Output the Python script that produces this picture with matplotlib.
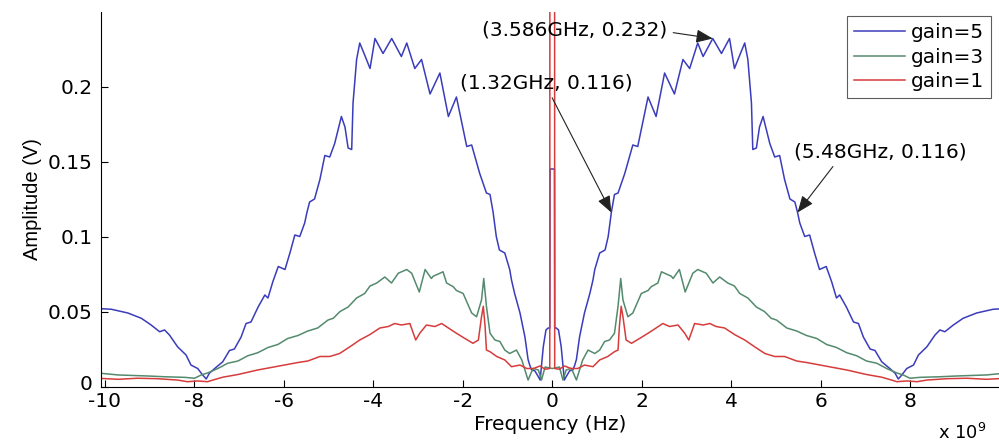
import matplotlib
matplotlib.use("Agg")
import matplotlib.pyplot as plt
import matplotlib.transforms as mtransforms
import numpy as np

# One-sided amplitude spectra (frequency in GHz, amplitude in V).
# The two-sided spectrum is symmetric, so the negative half is mirrored.
blue_f = [0.0, 0.05, 0.055, 0.09, 0.14, 0.20, 0.27, 0.31, 0.39, 0.46, 0.50,
          0.54, 0.61, 0.72, 0.84, 0.91, 0.95, 1.06, 1.18, 1.25, 1.32, 1.39,
          1.47, 1.62, 1.80, 1.91, 2.14, 2.32, 2.51, 2.73, 2.92, 3.07, 3.25,
          3.37, 3.586, 3.78, 3.96, 4.07, 4.19, 4.30, 4.37, 4.45, 4.48, 4.56,
          4.63, 4.71, 4.86, 4.97, 5.08, 5.19, 5.31, 5.42, 5.48, 5.53, 5.64,
          5.75, 5.86, 5.97, 6.12, 6.24, 6.35, 6.42, 6.57, 6.73, 6.84, 6.95,
          7.10, 7.21, 7.36, 7.54, 7.66, 7.73, 7.81, 7.92, 8.07, 8.18, 8.37,
          8.55, 8.66, 8.77, 8.96, 9.18, 9.48, 9.85, 10.15]
blue_a = [0.145, 0.145, 0.039, 0.039, 0.0377, 0.0265, 0.0043, 0.0065, 0.0105,
          0.011, 0.014, 0.018, 0.033, 0.049, 0.062, 0.071, 0.078, 0.089,
          0.091, 0.100, 0.116, 0.128, 0.129, 0.142, 0.161, 0.160, 0.193,
          0.180, 0.209, 0.195, 0.218, 0.212, 0.229, 0.220, 0.232, 0.222,
          0.232, 0.212, 0.221, 0.229, 0.218, 0.189, 0.158, 0.159, 0.173,
          0.180, 0.162, 0.153, 0.154, 0.138, 0.125, 0.123, 0.116, 0.109,
          0.100, 0.101, 0.089, 0.078, 0.080, 0.070, 0.059, 0.061, 0.053,
          0.043, 0.042, 0.033, 0.025, 0.024, 0.0165, 0.012, 0.0088, 0.005,
          0.0077, 0.012, 0.0143, 0.021, 0.0265, 0.0343, 0.0377, 0.0365,
          0.041, 0.0455, 0.049, 0.0515, 0.052]

green_f = [0.0, 0.16, 0.24, 0.31, 0.42, 0.46, 0.54, 0.61, 0.68, 0.80, 0.95,
           1.06, 1.17, 1.28, 1.39, 1.47, 1.53, 1.58, 1.69, 1.80, 1.99, 2.14,
           2.21, 2.36, 2.44, 2.51, 2.66, 2.70, 2.84, 2.97, 3.14, 3.25, 3.44,
           3.59, 3.74, 3.92, 4.07, 4.19, 4.37, 4.56, 4.74, 4.89, 5.01, 5.24,
           5.46, 5.68, 5.91, 6.13, 6.35, 6.58, 6.80, 7.02, 7.25, 7.47, 7.70,
           7.84, 7.99, 8.21, 8.66, 9.03, 9.70, 10.15]
green_a = [0.012, 0.013, 0.0043, 0.011, 0.012, 0.0099, 0.0043, 0.011, 0.0177,
           0.0243, 0.022, 0.0243, 0.030, 0.031, 0.0355, 0.0535, 0.072,
           0.0577, 0.0465, 0.049, 0.062, 0.064, 0.0665, 0.069, 0.0765,
           0.0755, 0.0735, 0.072, 0.078, 0.063, 0.0755, 0.078, 0.0755, 0.069,
           0.073, 0.069, 0.067, 0.062, 0.059, 0.053, 0.050, 0.0455, 0.0443,
           0.039, 0.037, 0.034, 0.032, 0.028, 0.026, 0.0225, 0.0205, 0.017,
           0.0155, 0.012, 0.009, 0.0077, 0.0055, 0.0061, 0.0065, 0.007,
           0.0077, 0.009]

red_f = [0.0, 0.05, 0.055, 0.16, 0.27, 0.42, 0.57, 0.72, 0.91, 1.06, 1.24,
         1.39, 1.47, 1.50, 1.54, 1.58, 1.65, 1.77, 1.95, 2.14, 2.32, 2.47,
         2.62, 2.81, 2.96, 3.05, 3.18, 3.37, 3.52, 3.66, 3.85, 4.08, 4.30,
         4.52, 4.75, 4.97, 5.19, 5.46, 5.68, 6.13, 6.58, 7.02, 7.36, 7.58,
         7.70, 7.92, 8.15, 8.37, 8.82, 9.26, 9.70, 10.15]
red_a = [0.6, 0.6, 0.012, 0.0115, 0.0137, 0.012, 0.012, 0.0143, 0.0132,
         0.0177, 0.020, 0.0232, 0.0243, 0.040, 0.0535, 0.0465, 0.031, 0.0288,
         0.032, 0.0355, 0.039, 0.042, 0.040, 0.041, 0.0355, 0.031, 0.042,
         0.041, 0.042, 0.040, 0.039, 0.0345, 0.031, 0.0265, 0.022, 0.020,
         0.020, 0.017, 0.016, 0.0135, 0.011, 0.008, 0.0062, 0.0043, 0.0032,
         0.0037, 0.0032, 0.0043, 0.0052, 0.0055, 0.0048, 0.0055]

series = [
    ("gain=5", blue_f, blue_a, "#3a3cbc"),
    ("gain=3", green_f, green_a, "#548a6e"),
    ("gain=1", red_f, red_a, "#d63c3c"),
]

# marked points on the gain=5 spectrum
marked_f = [3.586, 1.32, 5.48]


def mirror(f, a):
    f = np.asarray(f)
    a = np.asarray(a)
    return (np.concatenate([-f[:0:-1], f]),
            np.concatenate([a[:0:-1], a]))


plt.rcParams["font.family"] = ["DejaVu Sans"]
fs = 14.5

fig = plt.figure(figsize=(9.99, 4.43), dpi=100)
ax = fig.add_axes([101 / 999, 1 - 386.5 / 443, 1 - 101 / 999,
                   (386.5 - 11.5) / 443])

for label, f, a, color in series:
    x, y = mirror(f, a)
    ax.plot(x, y, color=color, linewidth=1.1, label=label)

ax.set_xlim(-10.08, 9.98)
ax.set_ylim(0, 0.25)
ax.set_xticks(np.arange(-10, 10, 2))
ax.set_xticklabels([str(v) for v in range(-10, 10, 2)])
ax.set_yticks([0, 0.05, 0.1, 0.15, 0.2])
ax.set_yticklabels(["0", "0.05", "0.1", "0.15", "0.2"])
ax.tick_params(direction="in", length=5, width=0.8, labelsize=fs)
ax.tick_params(axis="y", pad=6)
ax.tick_params(axis="x", pad=4)
for side in ("top", "right"):
    ax.spines[side].set_visible(False)
for side in ("left", "bottom"):
    ax.spines[side].set_linewidth(0.8)

# lift the "0" label a little so it clears the "-10" below it
zero_label = ax.get_yticklabels()[0]
zero_label.set_transform(zero_label.get_transform() +
                         mtransforms.ScaledTranslation(0, 4 / 100,
                                                       fig.dpi_scale_trans))

ax.set_xlabel("Frequency (Hz)", fontsize=fs, labelpad=3)
ax.set_ylabel("Amplitude (V)", fontsize=fs, labelpad=4,
              family="Liberation Sans")
fig.text(938 / 999, 1 - 433 / 443, r"x 10$^9$", fontsize=fs - 1.5,
         va="center", ha="left")

blue_lookup = dict(zip(blue_f, blue_a))
text_pos = {3.586: (0.51, 0.2377), 1.32: (-0.14, 0.2023), 5.48: (7.32, 0.1563)}
rel_pos = {3.586: (1.0, 0.4), 1.32: (0.52, 0.0), 5.48: (0.25, 0.0)}
for f in marked_f:
    a = blue_lookup[f]
    ax.annotate(f"({f:g}GHz, {a:g})", xy=(f, a), xytext=text_pos[f],
                fontsize=fs, ha="center", va="center",
                arrowprops=dict(arrowstyle="-|>,head_length=0.7,head_width=0.28",
                                color="#222222", lw=0.8, relpos=rel_pos[f],
                                shrinkA=2, shrinkB=0))

leg = ax.legend(loc="upper right", bbox_to_anchor=(991 / 999, 1 - 16 / 443),
                bbox_transform=fig.transFigure, borderaxespad=0,
                fontsize=fs, handlelength=2.5, handletextpad=0.3,
                labelspacing=0.28, borderpad=0.35, fancybox=False)
leg.get_frame().set_edgecolor("#333333")
leg.get_frame().set_linewidth(0.8)

fig.savefig("out.png", dpi=100)
